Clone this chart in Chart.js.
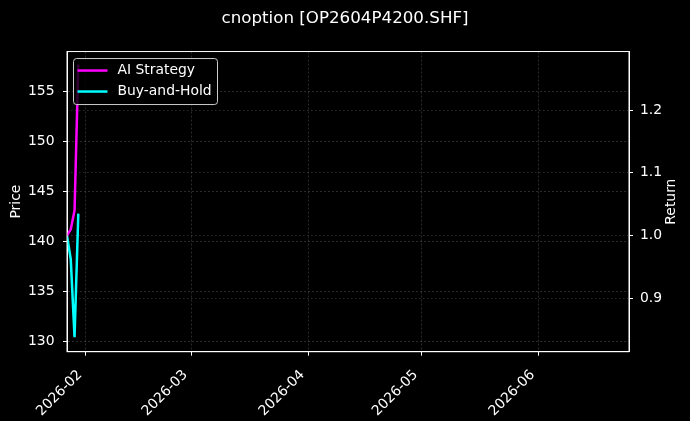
<!DOCTYPE html>
<html>
<head>
    <meta charset="UTF-8">
    <title>cnoption [OP2604P4200.SHF]</title>
    <script src="https://cdn.jsdelivr.net/npm/chart.js@4/dist/chart.umd.min.js"></script>
    <style type="text/css">
        html, body { margin: 0; padding: 0; background: #000; }
        #wrap { width: 690px; height: 421px; }
    </style>
</head>
<body>
<div id="wrap"><canvas id="optChart" width="690" height="421"></canvas></div>

<script>
    // data
    const dates = ['2026-01-27', '2026-01-28', '2026-01-29', '2026-01-30'];
    const aiStrategy = [1.0, 1.01, 1.04, 1.273];
    const buyAndHold = [1.0, 0.962, 0.838, 1.035];
    const xTickLabels = ['2026-02', '2026-03', '2026-04', '2026-05', '2026-06'];
    const priceTicks = [130, 135, 140, 145, 150, 155];
    const returnTicks = [0.9, 1.0, 1.1, 1.2];

    const toTime = s => {
        const p = s.split('-').map(Number);
        return Date.UTC(p[0], p[1] - 1, p[2] || 1);
    };

    const FS = 13.9;   // 10pt at 100 dpi
    const LW = 2.5;
    const gridColor = 'rgba(255,255,255,0.28)';

    // matplotlib style boxed legend, axes frame and right axis label
    const boxLegend = {
        id: 'boxLegend',
        afterDraw(chart) {
            const ctx = chart.ctx;
            const a = chart.chartArea;
            const x = a.left + 6.5, y = a.top + 7, w = 144, h = 46;
            ctx.save();
            ctx.beginPath();
            ctx.roundRect(x, y, w, h, 3);
            ctx.fillStyle = 'rgba(0,0,0,0.8)';
            ctx.fill();
            ctx.strokeStyle = '#cccccc';
            ctx.lineWidth = 1;
            ctx.stroke();
            ctx.font = FS + 'px "DejaVu Sans"';
            ctx.textBaseline = 'middle';
            chart.data.datasets.forEach((ds, i) => {
                const ly = y + 12 + i * 21;
                ctx.strokeStyle = ds.borderColor;
                ctx.lineWidth = LW;
                ctx.beginPath();
                ctx.moveTo(x + 4, ly);
                ctx.lineTo(x + 34, ly);
                ctx.stroke();
                ctx.fillStyle = '#ffffff';
                ctx.fillText(ds.label, x + 44, ly);
            });
            // frame round the axes
            ctx.strokeStyle = '#ffffff';
            ctx.lineWidth = 1;
            ctx.strokeRect(a.left, a.top, a.right - a.left, a.bottom - a.top);
            // right axis title, reading upwards like matplotlib
            ctx.translate(671.7, (a.top + a.bottom) / 2);
            ctx.rotate(-Math.PI / 2);
            ctx.textAlign = 'center';
            ctx.fillText('Return', 0, 0);
            ctx.restore();
        }
    };

    const blackBg = {
        id: 'blackBg',
        beforeDraw(chart) {
            const ctx = chart.ctx;
            ctx.save();
            ctx.fillStyle = '#000000';
            ctx.fillRect(0, 0, chart.width, chart.height);
            ctx.restore();
        }
    };

    Chart.defaults.font.family = '"DejaVu Sans", sans-serif';
    Chart.defaults.color = '#ffffff';

    const axisGrid = { color: gridColor, lineWidth: 0.6, tickColor: '#ffffff', tickLength: 4, tickWidth: 1 };

    new Chart(document.getElementById('optChart'), {
        type: 'line',
        data: {
            datasets: [
                {
                    label: 'AI Strategy',
                    data: dates.map((d, i) => ({ x: toTime(d), y: aiStrategy[i] })),
                    borderColor: '#ff00ff',
                    borderWidth: LW,
                    pointRadius: 0,
                    tension: 0,
                    yAxisID: 'y1'
                },
                {
                    label: 'Buy-and-Hold',
                    data: dates.map((d, i) => ({ x: toTime(d), y: buyAndHold[i] })),
                    borderColor: '#00ffff',
                    borderWidth: LW,
                    pointRadius: 0,
                    tension: 0,
                    yAxisID: 'y1'
                }
            ]
        },
        options: {
            responsive: false,
            animation: false,
            events: [],
            layout: { padding: 0 },
            plugins: {
                legend: { display: false },
                tooltip: { enabled: false },
                title: {
                    display: true,
                    text: 'cnoption [OP2604P4200.SHF]',
                    color: '#ffffff',
                    font: { size: 16.7, weight: 'normal' },
                    padding: { top: 8.5, bottom: 23 }
                }
            },
            scales: {
                x: {
                    type: 'linear',
                    min: toTime(dates[0]),
                    max: Date.UTC(2026, 5, 25),
                    afterBuildTicks: s => { s.ticks = xTickLabels.map(t => ({ value: toTime(t) })); },
                    afterFit: s => { s.height = 69.3; },
                    ticks: {
                        autoSkip: false,
                        maxRotation: 45,
                        minRotation: 45,
                        padding: 11,
                        labelOffset: -5.9,
                        font: { size: FS },
                        callback: v => {
                            const d = new Date(v);
                            return d.getUTCFullYear() + '-' + String(d.getUTCMonth() + 1).padStart(2, '0');
                        }
                    },
                    grid: axisGrid,
                    border: { color: '#ffffff', width: 1, dash: [2, 2] }
                },
                y: {
                    position: 'left',
                    min: 128.93,
                    max: 159.0,
                    afterBuildTicks: s => { s.ticks = priceTicks.map(v => ({ value: v })); },
                    afterFit: s => { s.width = 67; },
                    title: { display: true, text: 'Price', color: '#ffffff', font: { size: FS }, padding: { top: 7.6, bottom: 0 } },
                    ticks: { padding: 8.5, font: { size: FS } },
                    grid: axisGrid,
                    border: { color: '#ffffff', width: 1, dash: [2, 2] }
                },
                y1: {
                    position: 'right',
                    min: 0.815,
                    max: 1.2932,
                    afterBuildTicks: s => { s.ticks = returnTicks.map(v => ({ value: v })); },
                    afterFit: s => { s.width = 61; },
                    ticks: { padding: 7, font: { size: FS }, callback: v => v.toFixed(1) },
                    grid: axisGrid,
                    border: { color: '#ffffff', width: 1, dash: [1.5, 2.5] }
                }
            }
        },
        plugins: [blackBg, boxLegend]
    });
</script>
</body>
</html>
